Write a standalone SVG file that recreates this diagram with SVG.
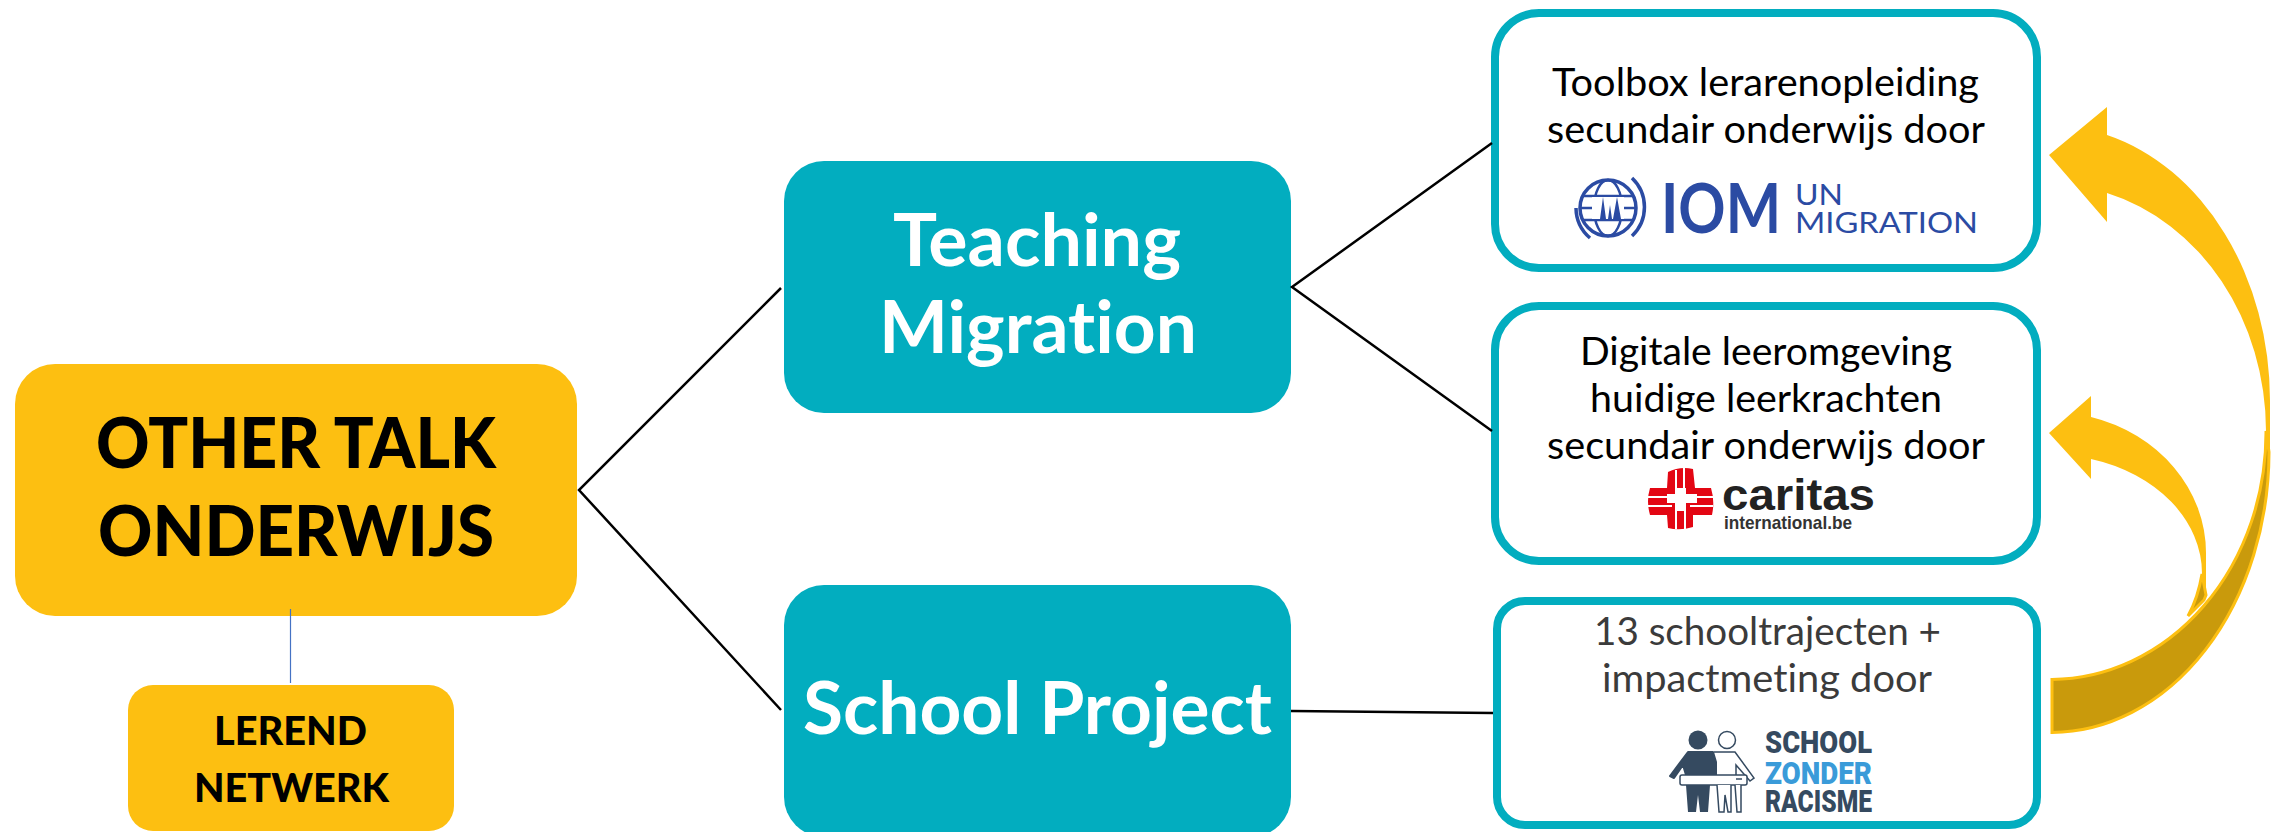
<svg xmlns="http://www.w3.org/2000/svg" width="2285" height="832" viewBox="0 0 2285 832">
<style>
text{font-family:"Lato","Open Sans","Noto Sans",sans-serif;font-variant-ligatures:none}
.y{fill:#FDBF11}
.t{fill:#02ADBF}
.w{fill:#fff;stroke:#02ADBF;stroke-width:8}
.b{font-weight:900;fill:#000}
.wt{font-weight:700;fill:#fff;font-size:72px}
.n{font-size:39px;fill:#000}
.g{font-size:39px;fill:#3b3b3b}
.c{fill:none;stroke:#000;stroke-width:2.5}
.ar{fill:#FDBF11}
.dk{fill:#C99A0C;stroke:#FDBF11;stroke-width:3}
.iom{fill:#2B4BA3;font-weight:400}
.szr{font-family:"Roboto","Liberation Sans",sans-serif;font-weight:900;font-size:31px}
</style>
<rect width="2285" height="832" fill="#fff"/>
<g id="other-talk">
<rect class="y" x="15" y="364" width="562" height="252" rx="40"/>
<text class="b" x="96" y="468" font-size="71" textLength="400" lengthAdjust="spacingAndGlyphs">OTHER TALK</text>
<text class="b" x="98" y="556" font-size="71" textLength="396" lengthAdjust="spacingAndGlyphs">ONDERWIJS</text>
</g>
<g id="lerend-netwerk">
<rect class="y" x="128" y="685" width="326" height="146" rx="25"/>
<text class="b" x="214" y="745" font-size="40" textLength="153" lengthAdjust="spacingAndGlyphs">LEREND</text>
<text class="b" x="194" y="802" font-size="40" textLength="195" lengthAdjust="spacingAndGlyphs">NETWERK</text>
</g>
<g id="teaching-migration">
<rect class="t" x="784" y="161" width="507" height="252" rx="40"/>
<text class="wt" x="893" y="266" textLength="288" lengthAdjust="spacingAndGlyphs">Teaching</text>
<text class="wt" x="879" y="353" textLength="318" lengthAdjust="spacingAndGlyphs">Migration</text>
</g>
<g id="school-project">
<rect class="t" x="784" y="585" width="507" height="252" rx="40"/>
<text class="wt" x="803" y="734" textLength="469" lengthAdjust="spacingAndGlyphs">School Project</text>
</g>
<g id="toolbox">
<rect class="w" x="1495" y="13" width="542" height="255" rx="44"/>
<text class="n" x="1552" y="96" textLength="427" lengthAdjust="spacingAndGlyphs">Toolbox lerarenopleiding</text>
<text class="n" x="1547" y="143" textLength="438" lengthAdjust="spacingAndGlyphs">secundair onderwijs door</text>
<g fill="none" stroke="#2B4BA3">
<circle cx="1608" cy="208" r="28" stroke-width="3.500"/>
<ellipse cx="1608" cy="208" rx="14" ry="28" stroke-width="2.500"/>
<path d="M1582,196H1634M1580,208H1594M1622,208H1636M1582,220H1634" stroke-width="2.500"/>
<path d="M1632,178A40,40 0 0 1 1632,236M1576,208A40,40 0 0 0 1590,238" stroke-width="3.500"/>
</g>
<rect x="1592" y="197" width="32" height="22" fill="#fff"/>
<path d="M1603,197l3,22h-6zM1617,197l4,22h-8zM1610,205l2,14h-4z" fill="#2B4BA3"/>
<text class="iom" x="1661" y="233" font-size="68" font-weight="700" style="font-weight:700" textLength="120" lengthAdjust="spacingAndGlyphs">IOM</text>
<text class="iom" x="1795" y="205" font-size="29" textLength="48" lengthAdjust="spacingAndGlyphs">UN</text>
<text class="iom" x="1795" y="233" font-size="29" textLength="183" lengthAdjust="spacingAndGlyphs">MIGRATION</text>
</g>
<g id="digitale">
<rect class="w" x="1495" y="306" width="542" height="255" rx="44"/>
<text class="n" x="1580" y="365" textLength="372" lengthAdjust="spacingAndGlyphs">Digitale leeromgeving</text>
<text class="n" x="1590" y="412" textLength="352" lengthAdjust="spacingAndGlyphs">huidige leerkrachten</text>
<text class="n" x="1547" y="459" textLength="438" lengthAdjust="spacingAndGlyphs">secundair onderwijs door</text>
<path d="M1668,472Q1680,466 1693,469L1695,488L1711,488Q1715,501 1712,515L1693,515L1693,527Q1680,531 1668,528L1667,515L1650,515Q1646,501 1650,488L1667,488Z" fill="#E30613"/>
<path d="M1676,470V494M1684,468V494M1648,497H1672M1648,506H1672M1690,497H1713M1690,506H1713M1676,505V529M1685,505V529" stroke="#fff" stroke-width="2" fill="none"/>
<path d="M1675,488H1686V494H1697V503H1686V511H1675V503H1667V494H1675Z" fill="#fff"/>
<text x="1722" y="510" font-size="44" font-weight="700" fill="#222" style="font-family:'Liberation Sans',sans-serif" textLength="153" lengthAdjust="spacingAndGlyphs">caritas</text>
<text x="1724" y="529" font-size="19" font-weight="700" fill="#333" style="font-family:'Liberation Sans',sans-serif" textLength="128" lengthAdjust="spacingAndGlyphs">international.be</text>
</g>
<g id="schooltrajecten">
<rect class="w" x="1497" y="601" width="540" height="224" rx="28"/>
<text class="g" x="1594" y="645" textLength="347" lengthAdjust="spacingAndGlyphs">13 schooltrajecten +</text>
<text class="g" x="1602" y="692" textLength="330" lengthAdjust="spacingAndGlyphs">impactmeting door</text>
<circle cx="1698" cy="740" r="9.500" fill="#354A60"/>
<circle cx="1727" cy="740" r="8.500" fill="#fff" stroke="#354A60" stroke-width="1.500"/>
<path d="M1714,752H1735L1754,778L1750,781L1736,765V775" fill="#fff" stroke="#354A60" stroke-width="1.500"/>
<path d="M1688,752H1713L1716,762V775H1686L1683,765L1674,778L1670,776Z" fill="#354A60" stroke="#354A60" stroke-width="2" stroke-linejoin="round"/>
<rect x="1680" y="775" width="67" height="10" rx="2" fill="#fff" stroke="#354A60" stroke-width="1.500"/>
<path d="M1736,779H1742" stroke="#354A60" stroke-width="1.500"/>
<path d="M1686,785H1710L1708,812H1700L1698,795L1696,812H1688Z" fill="#354A60"/>
<path d="M1717,785L1719,812H1724L1725,795L1728,812H1731V785M1735,785L1737,812H1741V785" fill="#fff" stroke="#354A60" stroke-width="1.500"/>
<text class="szr" x="1765" y="753" fill="#354A60" textLength="107" lengthAdjust="spacingAndGlyphs">SCHOOL</text>
<text class="szr" x="1765" y="784" fill="#3A9BD9" textLength="107" lengthAdjust="spacingAndGlyphs">ZONDER</text>
<text class="szr" x="1765" y="812" fill="#354A60" textLength="107" lengthAdjust="spacingAndGlyphs">RACISME</text>
</g>
<g id="connectors">
<path class="c" d="M781,288L579,490L781,710"/>
<path class="c" d="M1492,143L1292,287L1492,431"/>
<path class="c" d="M1291,711L1493,713"/>
<path d="M290.500,609V683" fill="none" stroke="#4472C4" stroke-width="1.200"/>
<path class="ar" d="M2049,433L2091,396L2091,417A156,141 0 0 1 2206,553L2206,595L2202,574A152,119 0 0 0 2091,459L2091,479Z"/>
<path class="dk" d="M2188,616Q2198,598 2202,574L2206,595L2204,600Z"/>
<path class="ar" d="M2049,155L2107,107L2107,135A220,275 0 0 1 2270,401L2270,452L2266,431A216,247 0 0 0 2107,193L2107,222Z"/>
<path class="dk" d="M2052,679.500A216,247 0 0 0 2266,431L2269,452A218,281 0 0 1 2052,732.500Z"/>
</g>
</svg>
